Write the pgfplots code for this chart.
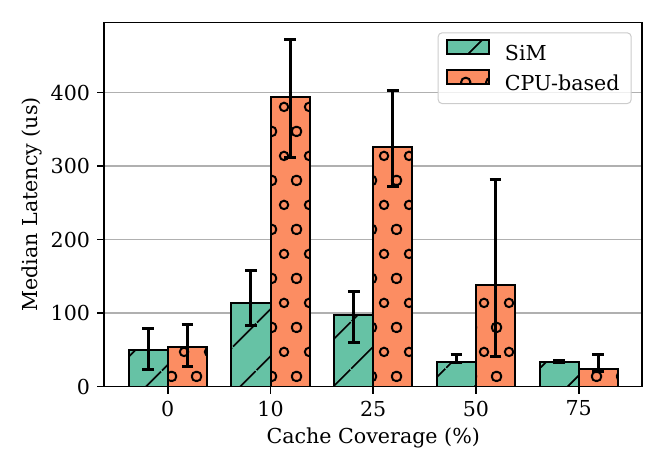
\documentclass[border=0pt]{standalone}
\usepackage{fontspec}
\setmainfont{DejaVu Serif}
\usepackage{pgfplots}
\pgfplotsset{compat=1.18}
\usepackage{pgfplotstable}
\usetikzlibrary{patterns,patterns.meta}
\definecolor{simgreen}{HTML}{66C2A5}
\definecolor{cpuorange}{HTML}{FC8D62}
\definecolor{gridgray}{HTML}{B0B0B0}
\definecolor{legframe}{HTML}{CCCCCC}
\pgfdeclarepattern{
  name=mycircles,
  type=uncolored,
  bottom left={\pgfpoint{0pt}{0pt}},
  top right={\pgfpoint{12.25pt}{24.5pt}},
  tile size={\pgfpoint{12.25pt}{24.5pt}},
  code={
    \pgfsetlinewidth{1pt}
    \pgfpathcircle{\pgfpoint{0pt}{0pt}}{2.15pt}
    \pgfpathcircle{\pgfpoint{12.25pt}{0pt}}{2.15pt}
    \pgfpathcircle{\pgfpoint{0pt}{24.5pt}}{2.15pt}
    \pgfpathcircle{\pgfpoint{12.25pt}{24.5pt}}{2.15pt}
    \pgfpathcircle{\pgfpoint{6.125pt}{12.25pt}}{2.15pt}
    \pgfusepath{stroke}
  }
}
\pgfplotsset{mylegend/.style={legend image code/.code={\draw[##1, sharp corners, fill opacity=1, draw opacity=1] (0pt,0.3pt) rectangle (21.3pt,7.3pt);}}}

\pgfplotstableread{
x y ep em
-0.19 49.7 29.5 26.3
0.81 114.1 43.6 30.8
1.81 96.9 32.2 37.3
2.81 33.8 9.5 1.5
3.81 33.8 1.9 1.5
}\simtable
\pgfplotstableread{
x y ep em
0.19 54.2 29.9 26.3
1.19 394.6 77.6 83.1
2.19 326.1 76.6 53.2
3.19 137.8 144.3 96.3
4.19 23.4 19.5 3.4
}\cputable

\begin{document}
\fontsize{10.3pt}{12.4pt}\selectfont
\begin{tikzpicture}
\path[use as bounding box] (-52.15pt,-43.25pt) rectangle (279.85pt,193.25pt);
\begin{axis}[
  at={(0pt,0pt)}, anchor=south west,
  scale only axis,
  width=268.95pt, height=182.1pt,
  xmin=-0.618, xmax=4.618,
  ymin=0, ymax=495.8,
  xtick={0,1,2,3,4},
  xticklabels={0,10,25,50,75},
  ytick={0,100,200,300,400},
  tick align=outside,
  tick pos=left,
  major tick length=3.5pt,
  every tick/.style={black, line width=0.8pt},
  axis line style={line width=0.8pt},
  ymajorgrids,
  grid style={gridgray, line width=0.7pt},
  axis on top=false,
  /pgf/number format/assume math mode=true,
  tick label style={font=\fontsize{10.3pt}{12.4pt}\selectfont},
  label style={font=\fontsize{10.3pt}{12.4pt}\selectfont},
  xlabel={Cache Coverage (\%)},
  ylabel={Median Latency (us)},
  xlabel style={at={(axis description cs:0.5,-0.1422)}, anchor=center},
  ylabel style={at={(axis description cs:-0.1339,0.5)}, anchor=center},
  legend style={at={(1,1)}, anchor=north east, xshift=-5.25pt, yshift=-5pt,
    draw=legframe, line width=0.5pt, rounded corners=2pt, fill=white, fill opacity=0.8, text opacity=1,
    font=\fontsize{10.3pt}{12.4pt}\selectfont,
    inner xsep=3.8pt, inner ysep=3pt, row sep=0.5pt,
    cells={anchor=west},
    /tikz/every odd column/.append style={column sep=5.3pt}},
  legend cell align=left,
]
\addplot[ybar, bar width=0.38, bar shift=0pt, fill=simgreen, draw=black, line width=1pt,
  postaction={pattern={Lines[angle=45,distance=17pt,line width=1pt]}, pattern color=black},
  mylegend,
  error bars/.cd, y dir=both, y explicit,
  error bar style={line width=1.5pt, black},
  error mark options={rotate=90, line width=1.5pt, black, mark size=2.9pt}]
  table[x=x, y=y, y error plus=ep, y error minus=em] {\simtable};
\addlegendentry{SiM}
\addplot[ybar, bar width=0.38, bar shift=0pt, fill=cpuorange, draw=black, line width=1pt,
  postaction={pattern=mycircles, pattern color=black},
  mylegend,
  error bars/.cd, y dir=both, y explicit,
  error bar style={line width=1.5pt, black},
  error mark options={rotate=90, line width=1.5pt, black, mark size=2.9pt}]
  table[x=x, y=y, y error plus=ep, y error minus=em] {\cputable};
\addlegendentry{CPU-based}
\end{axis}
\end{tikzpicture}
\end{document}
